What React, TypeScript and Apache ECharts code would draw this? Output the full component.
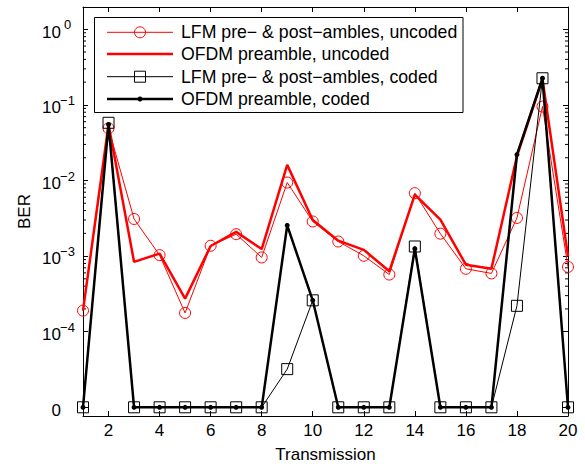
import React, { useEffect, useRef } from "react";
import * as echarts from "echarts";

// ---- Data ----
const transmissions = [1, 2, 3, 4, 5, 6, 7, 8, 9, 10, 11, 12, 13, 14, 15, 16, 17, 18, 19, 20];
const lfmUncoded = [1.9e-4, 4.9e-2, 3.1e-3, 1.03e-3, 1.77e-4, 1.37e-3, 1.95e-3, 9.6e-4, 9.4e-3, 2.87e-3, 1.56e-3, 1.01e-3, 5.7e-4, 6.8e-3, 1.98e-3, 6.8e-4, 5.9e-4, 3.2e-3, 9.5e-2, 7.2e-4];
const ofdmUncoded = [1.9e-4, 5.5e-2, 8.4e-4, 1.08e-3, 2.74e-4, 1.36e-3, 2.09e-3, 1.24e-3, 1.61e-2, 3.0e-3, 1.6e-3, 1.21e-3, 6.3e-4, 6.5e-3, 3.03e-3, 7.7e-4, 6.8e-4, 2.1e-2, 2.2e-1, 1.0e-3];
const lfmCoded = [0, 5.8e-2, 0, 0, 0, 0, 0, 0, 3.2e-5, 2.6e-4, 0, 0, 0, 1.34e-3, 0, 0, 0, 2.2e-4, 2.25e-1, 0];
const ofdmCoded = [0, 5.5e-2, 0, 0, 0, 0, 0, 0, 2.55e-3, 2.6e-4, 0, 0, 0, 1.25e-3, 0, 0, 0, 2.2e-2, 2.25e-1, 0];

const seriesNames = [
  "LFM pre\u2212 & post\u2212ambles, uncoded",
  "OFDM preamble, uncoded",
  "LFM pre\u2212 & post\u2212ambles, coded",
  "OFDM preamble, coded",
];

const xTickValues = [2, 4, 6, 8, 10, 12, 14, 16, 18, 20];
const yDecades = [-5, -4, -3, -2, -1, 0]; // -5 position is used for BER = 0
const minorDecades = [-4, -3, -2, -1];
const minorMultipliers = [2, 3, 4, 5, 6, 7, 8, 9];

const ZERO_POS = -5;
const X_MIN = 1;
const X_MAX = 20;
const Y_MIN = -5.115;
const Y_MAX = 0.295;

const FONT = "'Liberation Sans', Arial, Helvetica, sans-serif";

const toLog = (v: number) => (v === 0 ? ZERO_POS : Math.log10(v));
const pairs = (vals: number[]) => transmissions.map((t, i) => [t, toLog(vals[i])]);

export default function App() {
  const ref = useRef<HTMLDivElement>(null);

  useEffect(() => {
    if (!ref.current) return;
    const chart = echarts.init(ref.current, undefined, { renderer: "svg" });

    const minorData: number[][] = [];
    minorDecades.forEach((d) =>
      minorMultipliers.forEach((m) => minorData.push([X_MIN, Math.log10(m) + d]))
    );

    const yLabelFormatter = (v: number) => {
      const n = Math.round(v);
      if (n === ZERO_POS) return "{z|0}{s|\u00a0}";
      const sup = n < 0 ? "\u2212" + Math.abs(n) : String(n);
      return `{b|10}{s|${sup}}`;
    };

    const axisColor = "#000";

    const legendRowsY = [32.3, 54, 76.7, 99];
    const legendX1 = 107;
    const legendX2 = 173;
    const legendMid = 140;

    const graphic: any[] = [
      {
        type: "rect",
        z: 100,
        shape: { x: 94.5, y: 17.5, width: 368.5, height: 95 },
        style: { fill: "#fff", stroke: "#000", lineWidth: 1 },
      },
    ];
    const legendStyles = [
      { color: "#ff0000", width: 1, marker: "circle" },
      { color: "#ff0000", width: 2.5, marker: "none" },
      { color: "#000", width: 1, marker: "square" },
      { color: "#000", width: 2.5, marker: "dot" },
    ];
    legendStyles.forEach((ls, i) => {
      const y = legendRowsY[i];
      graphic.push({
        type: "line",
        z: 101,
        shape: { x1: legendX1, y1: y, x2: legendX2, y2: y },
        style: { stroke: ls.color, lineWidth: ls.width },
      });
      if (ls.marker === "circle") {
        graphic.push({
          type: "circle",
          z: 102,
          shape: { cx: legendMid, cy: y, r: 5.5 },
          style: { fill: "none", stroke: ls.color, lineWidth: 1 },
        });
      } else if (ls.marker === "square") {
        graphic.push({
          type: "rect",
          z: 102,
          shape: { x: legendMid - 5.5, y: y - 5.5, width: 11, height: 11 },
          style: { fill: "none", stroke: ls.color, lineWidth: 1 },
        });
      } else if (ls.marker === "dot") {
        graphic.push({
          type: "circle",
          z: 102,
          shape: { cx: legendMid, cy: y, r: 2.5 },
          style: { fill: ls.color, stroke: ls.color, lineWidth: 0 },
        });
      }
      graphic.push({
        type: "text",
        z: 102,
        x: 181,
        y: y,
        style: {
          text: seriesNames[i],
          fill: "#000",
          font: `17.7px ${FONT}`,
          verticalAlign: "middle",
          align: "left",
        },
      });
    });

    const commonY = {
      type: "value",
      min: Y_MIN,
      max: Y_MAX,
      splitLine: { show: false },
      axisLine: { show: true, onZero: false, lineStyle: { color: axisColor, width: 1 } },
      axisTick: {
        show: true,
        inside: true,
        length: 5,
        customValues: yDecades,
        lineStyle: { color: axisColor, width: 1 },
      },
    };
    const commonX = {
      type: "value",
      min: X_MIN,
      max: X_MAX,
      splitLine: { show: false },
      axisLine: { show: true, onZero: false, lineStyle: { color: axisColor, width: 1 } },
      axisTick: {
        show: true,
        inside: true,
        length: 5,
        customValues: xTickValues,
        lineStyle: { color: axisColor, width: 1 },
      },
    };

    chart.setOption({
      animation: false,
      backgroundColor: "#fff",
      grid: { left: 83, right: 17, top: 7, bottom: 48, containLabel: false, outerBoundsMode: "none" },
      xAxis: [
        {
          ...commonX,
          position: "bottom",
          name: "Transmission",
          nameLocation: "middle",
          nameGap: 30,
          nameMoveOverlap: false,
          nameTextStyle: { color: "#000", fontSize: 17, fontFamily: FONT },
          axisLabel: {
            show: true,
            margin: 6,
            customValues: xTickValues,
            color: "#000",
            fontSize: 17,
            fontFamily: FONT,
          },
        },
        {
          ...commonX,
          position: "top",
          axisLabel: { show: false },
        },
      ],
      yAxis: [
        {
          ...commonY,
          position: "left",
          name: "BER",
          nameLocation: "middle",
          nameGap: 50,
          nameMoveOverlap: false,
          nameTextStyle: { color: "#000", fontSize: 17, fontFamily: FONT },
          axisLabel: {
            show: true,
            margin: 9,
            customValues: yDecades,
            formatter: yLabelFormatter,
            rich: {
              b: { fontSize: 17, lineHeight: 22, padding: [5.4, 0, 0, 0], color: "#000", fontFamily: FONT },
              s: { fontSize: 13, lineHeight: 13, width: 13, align: "left", verticalAlign: "top", color: "#000", fontFamily: FONT },
              z: { fontSize: 17, lineHeight: 22, padding: [5.4, 0, 0, 0], color: "#000", fontFamily: FONT },
            },
          },
        },
        {
          ...commonY,
          position: "right",
          axisLabel: { show: false },
        },
      ],
      graphic,
      series: [
        {
          type: "custom",
          name: "minorTicks",
          silent: true,
          xAxisIndex: 0,
          yAxisIndex: 0,
          encode: { x: 0, y: 1 },
          data: minorData,
          renderItem: (params: any, api: any) => {
            const v = api.value(1);
            const l = api.coord([X_MIN, v]);
            const r = api.coord([X_MAX, v]);
            return {
              type: "group",
              children: [
                {
                  type: "line",
                  shape: { x1: l[0], y1: l[1], x2: l[0] + 3, y2: l[1] },
                  style: { stroke: "#000", lineWidth: 1 },
                },
                {
                  type: "line",
                  shape: { x1: r[0] - 3, y1: r[1], x2: r[0], y2: r[1] },
                  style: { stroke: "#000", lineWidth: 1 },
                },
              ],
            };
          },
        },
        {
          type: "line",
          name: seriesNames[0],
          data: pairs(lfmUncoded),
          symbol: "circle",
          symbolSize: 11,
          showAllSymbol: true,
          lineStyle: { color: "#ff0000", width: 1 },
          itemStyle: { color: "rgba(0,0,0,0)", borderColor: "#ff0000", borderWidth: 1 },
          z: 3,
        },
        {
          type: "line",
          name: seriesNames[1],
          data: pairs(ofdmUncoded),
          symbol: "none",
          lineStyle: { color: "#ff0000", width: 2.5 },
          itemStyle: { color: "#ff0000" },
          z: 4,
        },
        {
          type: "line",
          name: seriesNames[2],
          data: pairs(lfmCoded),
          symbol: "rect",
          symbolSize: 11,
          showAllSymbol: true,
          lineStyle: { color: "#000", width: 1 },
          itemStyle: { color: "rgba(0,0,0,0)", borderColor: "#000", borderWidth: 1 },
          z: 5,
        },
        {
          type: "line",
          name: seriesNames[3],
          data: pairs(ofdmCoded),
          symbol: "circle",
          symbolSize: 5,
          showAllSymbol: true,
          lineStyle: { color: "#000", width: 2.5 },
          itemStyle: { color: "#000", borderWidth: 0 },
          z: 6,
        },
      ],
    } as any);

    return () => chart.dispose();
  }, []);

  return (
    <div
      ref={ref}
      style={{ position: "absolute", left: 0, top: 0, width: 585, height: 464, background: "#fff" }}
    />
  );
}
